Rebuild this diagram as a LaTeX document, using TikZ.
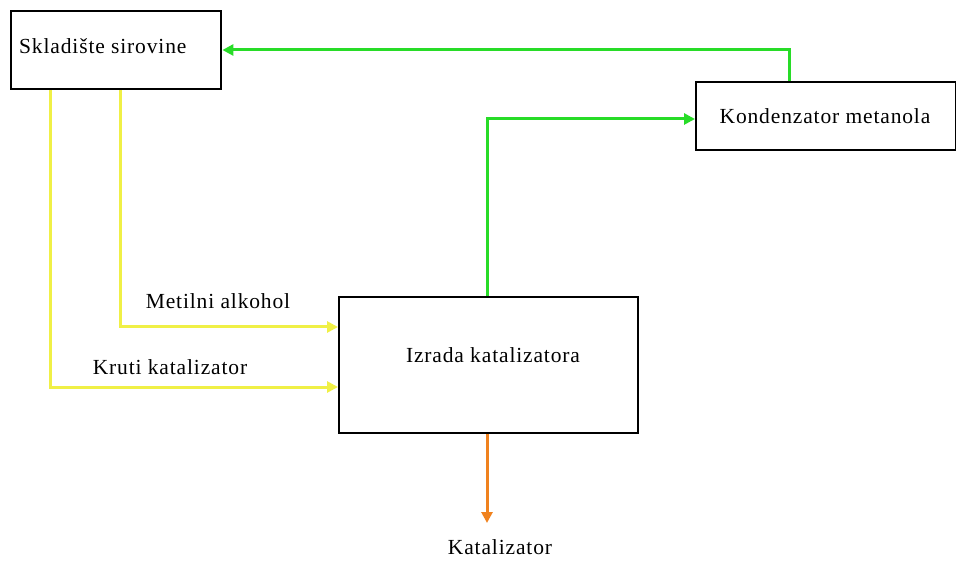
\documentclass[tikz,border=0pt]{standalone}
\usepackage{fontspec}
\setmainfont{Liberation Serif}[LetterSpace=4]
\usetikzlibrary{arrows.meta}
\definecolor{flowgreen}{RGB}{40,220,40}
\definecolor{flowyellow}{RGB}{240,240,70}
\definecolor{floworange}{RGB}{240,130,30}
\begin{document}
\begin{tikzpicture}[x=1pt,y=-1pt,
  blockbox/.style={draw=black, line width=2.4pt, inner sep=0pt, anchor=north west},
  lbl/.style={font=\fontsize{21.5}{24}\selectfont, inner sep=0pt},
  flow/.style={line width=3pt, -{Triangle[length=11pt,width=11pt]}}]
\useasboundingbox (0,0) rectangle (956,561);
% process blocks
\node[blockbox, minimum width=210pt, minimum height=78pt] (sklad) at (10,10) {};
\node[blockbox, minimum width=260pt, minimum height=68pt] (kond) at (695,81) {};
\node[blockbox, minimum width=299pt, minimum height=136pt] (izrada) at (338,296) {};
% block labels
\node[lbl, anchor=west] (tsklad) at (19,46) {Skladište sirovine};
\node[lbl] (tkond) at (825,116) {Kondenzator metanola};
\node[lbl] (tizr) at (493,355) {Izrada katalizatora};
% flow labels
\node[lbl] (tmet) at (218,301) {Metilni alkohol};
\node[lbl] (tkruti) at (170,367) {Kruti katalizator};
\node[lbl] (tkat) at (500,547) {Katalizator};
% green recycle lines
\coordinate (g1) at (789,50);
\coordinate (g2) at (487,119);
\draw[flow, flowgreen] (kond.north -| g1) |- (sklad.east |- g1);
\draw[flow, flowgreen] (izrada.north -| g2) |- (kond.west |- g2);
% yellow feeds
\coordinate (y1) at (120,327);
\coordinate (y2) at (50,387);
\draw[flow, flowyellow] (sklad.south -| y1) |- (izrada.west |- y1);
\draw[flow, flowyellow] (sklad.south -| y2) |- (izrada.west |- y2);
% orange product
\coordinate (o1) at (487,523);
\draw[flow, floworange] (izrada.south -| o1) -- (o1);
\end{tikzpicture}
\end{document}
